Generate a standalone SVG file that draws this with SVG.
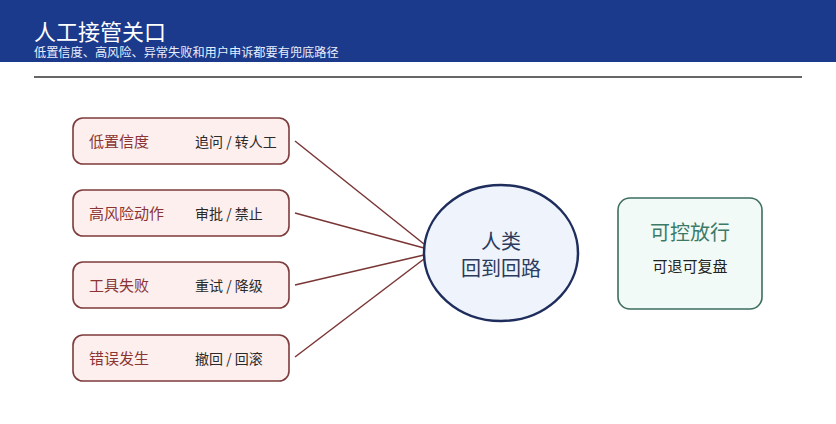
<svg xmlns="http://www.w3.org/2000/svg" width="836" height="424" viewBox="0 0 836 424">
<style>
.cjk{font-family:"Noto Sans CJK SC","Noto Sans",sans-serif}
.box{fill:#fcefee;stroke:#7d3b3b;stroke-width:1.6}
.lt{font-size:15px;fill:#8a3434}
.rt{font-size:14px;fill:#2a2a2a}
.conn{stroke:#7a3535;stroke-width:1.5;fill:none}
</style>
<rect x="0" y="0" width="836" height="62" fill="#1b3a8c"/>
<text x="34" y="40" class="cjk" font-size="22" fill="#ffffff">人工接管关口</text>
<text x="34" y="57" class="cjk" font-size="12.2" fill="#e8eefc">低置信度、高风险、异常失败和用户申诉都要有兜底路径</text>
<line x1="34" y1="77" x2="802" y2="77" stroke="#333" stroke-width="1.5"/>
<g id="connectors">
<line class="conn" x1="295" y1="141" x2="424" y2="244"/>
<line class="conn" x1="295" y1="213" x2="424" y2="248"/>
<line class="conn" x1="295" y1="285" x2="424" y2="255"/>
<line class="conn" x1="295" y1="357" x2="424" y2="259"/>
</g>
<g id="n1"><rect class="box" x="73" y="118" width="216" height="46" rx="10"/>
<text class="cjk lt" x="89" y="147">低置信度</text><text class="cjk rt" x="195" y="147">追问 / 转人工</text></g>
<g id="n2"><rect class="box" x="73" y="190" width="216" height="46" rx="10"/>
<text class="cjk lt" x="89" y="219">高风险动作</text><text class="cjk rt" x="195" y="219">审批 / 禁止</text></g>
<g id="n3"><rect class="box" x="73" y="262" width="216" height="46" rx="10"/>
<text class="cjk lt" x="89" y="291">工具失败</text><text class="cjk rt" x="195" y="291">重试 / 降级</text></g>
<g id="n4"><rect class="box" x="73" y="335" width="216" height="46" rx="10"/>
<text class="cjk lt" x="89" y="364">错误发生</text><text class="cjk rt" x="195" y="364">撤回 / 回滚</text></g>
<g id="human"><ellipse cx="501" cy="253" rx="77" ry="68" fill="#eef3fc" stroke="#1e2d5c" stroke-width="2.5"/>
<text class="cjk" x="501" y="249" font-size="20" fill="#2c3b5c" text-anchor="middle">人类</text>
<text class="cjk" x="501" y="276" font-size="20" fill="#2c3b5c" text-anchor="middle">回到回路</text></g>
<g id="release"><rect x="618" y="198" width="144" height="111" rx="12" fill="#f1faf6" stroke="#3d6e60" stroke-width="1.6"/>
<text class="cjk" x="690" y="240" font-size="20" fill="#3d7a66" text-anchor="middle">可控放行</text>
<text class="cjk" x="690" y="272" font-size="15" fill="#222" text-anchor="middle">可退可复盘</text></g>
</svg>
